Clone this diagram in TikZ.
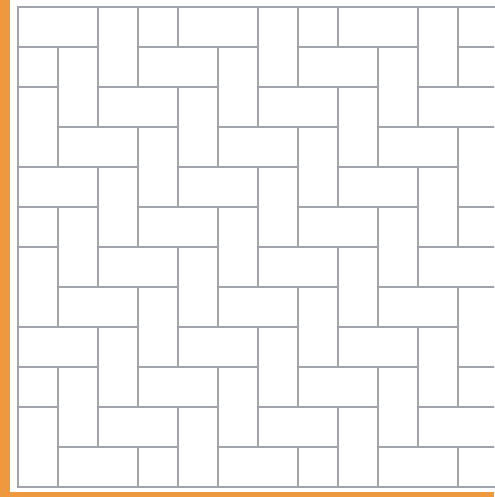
\documentclass[tikz,border=0pt]{standalone}
\usetikzlibrary{calc}
\definecolor{frameorange}{RGB}{238,152,64}
\definecolor{groutgray}{RGB}{160,164,170}
\tikzset{
  tile/.style={draw=groutgray, line width=0.8pt},
  band/.style={fill=frameorange, draw=none}
}

\begin{document}
\begin{tikzpicture}[x=1cm,y=1cm]
  \useasboundingbox (-0.45,0.175) rectangle (11.9,-12.25);
  % orange frame strips
  \fill[band] (-0.45,0.175) rectangle (-0.2,-12.25);
  \fill[band] (-0.45,-12.12) rectangle (11.9,-12.25);
  % herringbone tiles
  \begin{scope}
    \clip (0,0) rectangle (11.9,-12);
    \foreach \c in {-12,-8,...,24} {
      \foreach \b in {0,...,13} {
        \draw[tile] (\c-\b+1,1-\b) rectangle ++(2,-1);
        \draw[tile] (\c-\b+3,1-\b) rectangle ++(1,-2);
      }
    }
  \end{scope}
  \draw[tile] (0,0) rectangle (12,-12);
\end{tikzpicture}
\end{document}
